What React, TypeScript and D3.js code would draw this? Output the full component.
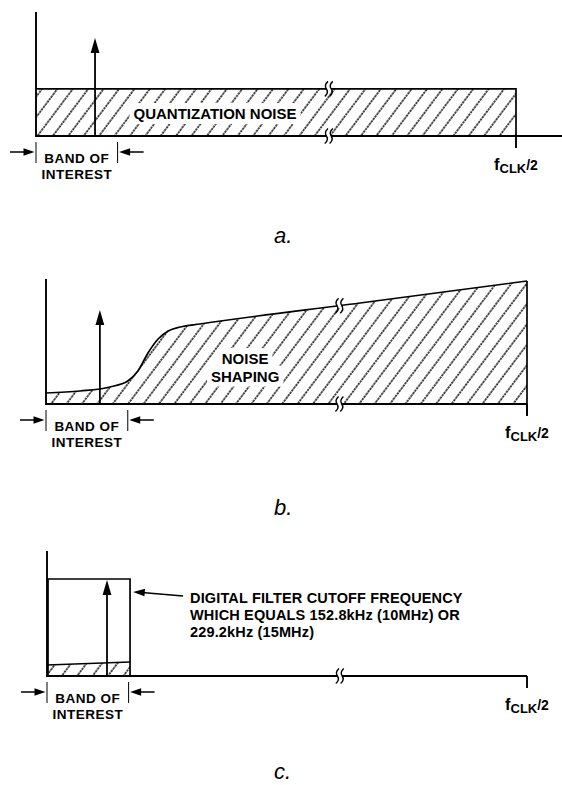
import { useEffect, useRef } from "react";
import * as d3 from "d3";

const W = 562;
const H = 785;

// frequency runs 0 → fCLK/2, levels are a fraction of each panel's height
const PANEL_NAMES = ["a.", "b.", "c."];
const SIGNAL_FREQ = [0.123, 0.112, 0.125];
const SIGNAL_AMP = [0.79, 0.752, 0.768];
const BAND_EDGE = 0.17;
const BREAK_FREQ = 0.61;

const QUANT_NOISE_LEVEL = 0.38;

const SHAPED_FREQ = [0, 0.071, 0.133, 0.17, 0.191, 0.212, 0.233, 0.254, 0.279, 0.32, 0.653, 1];
const SHAPED_LEVEL = [0.088, 0.104, 0.136, 0.184, 0.264, 0.408, 0.52, 0.584, 0.616, 0.64, 0.808, 0.984];

const FILTER_CUTOFF = 0.173;
const FILTER_GAIN = 0.776;
const FILTERED_FREQ = [0, 0.173];
const FILTERED_LEVEL = [0.088, 0.112];

const FILTER_NOTE = [
  "DIGITAL FILTER CUTOFF FREQUENCY",
  "WHICH EQUALS 152.8kHz (10MHz) OR",
  "229.2kHz (15MHz)",
];

// pixel frames of the three panels
const FRAMES = [
  { x0: 36, x1: 516, base: 136, top: 12, tail: 562, capY: 243 },
  { x0: 46, x1: 527, base: 404, top: 279, tail: 527, capY: 515 },
  { x0: 47, x1: 527, base: 676, top: 551, tail: 527, capY: 779 },
];

const FONT = "'Liberation Sans', Arial, Helvetica, sans-serif";
const INK = "#000";

type G = d3.Selection<SVGGElement, unknown, null, undefined>;

function arrowHead(g: G, x: number, y: number, dir: "up" | "left" | "right", len: number, half: number) {
  let pts: [number, number][];
  if (dir === "up") pts = [[x, y], [x - half, y + len], [x + half, y + len]];
  else if (dir === "left") pts = [[x, y], [x + len, y - half], [x + len, y + half]];
  else pts = [[x, y], [x - len, y - half], [x - len, y + half]];
  g.append("path").attr("d", "M" + pts.map((p) => p.join(",")).join("L") + "Z").attr("fill", INK);
}

function squiggle(g: G, x: number, y: number) {
  g.append("rect").attr("x", x - 2.2).attr("y", y - 2.5).attr("width", 4.4).attr("height", 5).attr("fill", "#fff");
  [-2.4, 2.4].forEach((dx) => {
    const cx = x + dx;
    g.append("path")
      .attr("d", `M${cx + 1.6},${y - 7.5} Q${cx - 2.6},${y - 3.8} ${cx},${y} Q${cx + 2.6},${y + 3.8} ${cx - 1.6},${y + 7.5}`)
      .attr("fill", "none").attr("stroke", INK).attr("stroke-width", 1.4);
  });
}

function boxedText(g: G, lines: string[], x: number, y: number, lh: number, size: number) {
  const t = g.append("text")
    .attr("font-family", FONT).attr("font-weight", "700").attr("font-size", size)
    .attr("text-anchor", "middle").attr("fill", INK);
  lines.forEach((s, i) => t.append("tspan").attr("x", x).attr("y", y + i * lh).text(s));
  const bb = (t.node() as SVGTextElement).getBBox();
  g.insert("rect", () => t.node())
    .attr("x", bb.x - 4).attr("y", bb.y - 2).attr("width", bb.width + 8).attr("height", bb.height + 4)
    .attr("fill", "#fff");
}

export default function App() {
  const ref = useRef<SVGSVGElement>(null);

  useEffect(() => {
    if (!ref.current) return;
    const svg = d3.select(ref.current);
    svg.selectAll("*").remove();

    const pat = svg.append("defs").append("pattern")
      .attr("id", "hatch").attr("patternUnits", "userSpaceOnUse")
      .attr("width", 12.3).attr("height", 12.8).attr("patternTransform", "rotate(37)");
    pat.append("line").attr("x1", 1).attr("y1", 0).attr("x2", 1).attr("y2", 12.8)
      .attr("stroke", "#111").attr("stroke-width", 1.5).attr("stroke-dasharray", "2.4 0.8");

    FRAMES.forEach((fr, i) => {
      const g = svg.append("g") as unknown as G;
      const x = d3.scaleLinear().domain([0, 1]).range([fr.x0, fr.x1]);
      const y = d3.scaleLinear().domain([0, 1]).range([fr.base, fr.top]);

      // noise content
      if (i === 0) {
        g.append("rect")
          .attr("x", x(0)).attr("y", y(QUANT_NOISE_LEVEL))
          .attr("width", x(1) - x(0)).attr("height", y(0) - y(QUANT_NOISE_LEVEL))
          .attr("fill", "url(#hatch)");
        boxedText(g, ["QUANTIZATION NOISE"], x(0.373), y(0.137), 0, 15);
        g.append("path")
          .attr("d", `M${x(0)},${y(QUANT_NOISE_LEVEL)}H${x(1)}V${y(0)}`)
          .attr("fill", "none").attr("stroke", INK).attr("stroke-width", 1.7);
      } else if (i === 1) {
        const pts = SHAPED_FREQ.map((f, k) => [f, SHAPED_LEVEL[k]] as [number, number]);
        const area = d3.area<[number, number]>().x((d) => x(d[0])).y0(y(0)).y1((d) => y(d[1])).curve(d3.curveMonotoneX);
        const line = d3.line<[number, number]>().x((d) => x(d[0])).y((d) => y(d[1])).curve(d3.curveMonotoneX);
        g.append("path").attr("d", area(pts) as string).attr("fill", "url(#hatch)");
        boxedText(g, ["NOISE"], x(0.414), y(0.32), 0, 15);
        boxedText(g, ["SHAPING"], x(0.414), y(0.32) + 17.5, 0, 15);
        g.append("path").attr("d", line(pts) as string).attr("fill", "none").attr("stroke", INK).attr("stroke-width", 1.7);
        g.append("line").attr("x1", x(1)).attr("x2", x(1)).attr("y1", y(SHAPED_LEVEL[SHAPED_LEVEL.length - 1])).attr("y2", fr.base + 11)
          .attr("stroke", INK).attr("stroke-width", 1.7);
      } else {
        const pts = FILTERED_FREQ.map((f, k) => [f, FILTERED_LEVEL[k]] as [number, number]);
        const area = d3.area<[number, number]>().x((d) => x(d[0])).y0(y(0)).y1((d) => y(d[1]));
        const line = d3.line<[number, number]>().x((d) => x(d[0])).y((d) => y(d[1]));
        g.append("path").attr("d", area(pts) as string).attr("fill", "url(#hatch)");
        g.append("path").attr("d", line(pts) as string).attr("fill", "none").attr("stroke", INK).attr("stroke-width", 1.3);
        g.append("path")
          .attr("d", `M${x(0) + 1},${y(0)}V${y(FILTER_GAIN)}H${x(FILTER_CUTOFF)}V${y(0)}`)
          .attr("fill", "none").attr("stroke", INK).attr("stroke-width", 1.7);
        // pointer to the cutoff
        const tx = x(FILTER_CUTOFF);
        const ty = y(FILTER_GAIN);
        g.append("line").attr("x1", tx + 53).attr("y1", ty + 17).attr("x2", tx + 12).attr("y2", ty + 13.6)
          .attr("stroke", INK).attr("stroke-width", 1.5);
        g.append("path")
          .attr("d", `M${tx + 3},${ty + 13}L${tx + 15},${ty + 9.8}L${tx + 14.4},${ty + 17.2}Z`)
          .attr("fill", INK);
        FILTER_NOTE.forEach((s, k) =>
          g.append("text").attr("font-family", FONT).attr("font-weight", "700").attr("font-size", 14.5)
            .attr("letter-spacing", 0.15).attr("fill", INK)
            .attr("x", tx + 60).attr("y", ty + 24 + k * 17).text(s));
      }

      // axes
      g.append("line").attr("x1", fr.x0).attr("x2", fr.x0).attr("y1", fr.top).attr("y2", fr.base)
        .attr("stroke", INK).attr("stroke-width", 1.9);
      g.append("line").attr("x1", fr.x0 - 1).attr("x2", fr.tail).attr("y1", fr.base).attr("y2", fr.base)
        .attr("stroke", INK).attr("stroke-width", 1.9);
      g.append("line").attr("x1", x(1)).attr("x2", x(1)).attr("y1", fr.base).attr("y2", fr.base + 12)
        .attr("stroke", INK).attr("stroke-width", 1.9);

      // breaks
      if (i === 0) squiggle(g, x(BREAK_FREQ), y(QUANT_NOISE_LEVEL));
      if (i === 1) {
        const lvl = d3.scaleLinear().domain(SHAPED_FREQ).range(SHAPED_LEVEL);
        squiggle(g, x(BREAK_FREQ), y(lvl(BREAK_FREQ)));
      }
      squiggle(g, x(BREAK_FREQ), fr.base);

      // signal
      const sx = x(SIGNAL_FREQ[i]);
      const sy = y(SIGNAL_AMP[i]);
      g.append("line").attr("x1", sx).attr("x2", sx).attr("y1", fr.base).attr("y2", sy + 10)
        .attr("stroke", INK).attr("stroke-width", 1.8);
      arrowHead(g, sx, sy, "up", 15, 4.4);

      // band of interest
      const bx0 = x(0);
      const bx1 = x(BAND_EDGE);
      [bx0, bx1].forEach((bx) =>
        g.append("line").attr("x1", bx).attr("x2", bx).attr("y1", fr.base + 6).attr("y2", fr.base + 27)
          .attr("stroke", INK).attr("stroke-width", 1));
      const ay = fr.base + 16;
      g.append("line").attr("x1", bx0 - 26).attr("x2", bx0 - 6).attr("y1", ay).attr("y2", ay).attr("stroke", INK).attr("stroke-width", 1.5);
      arrowHead(g, bx0 - 1.5, ay, "right", 11, 3.8);
      g.append("line").attr("x1", bx1 + 26).attr("x2", bx1 + 6).attr("y1", ay).attr("y2", ay).attr("stroke", INK).attr("stroke-width", 1.5);
      arrowHead(g, bx1 + 1.5, ay, "left", 11, 3.8);
      ["BAND OF", "INTEREST"].forEach((s, k) =>
        g.append("text").attr("font-family", FONT).attr("font-weight", "700").attr("font-size", 13.5)
          .attr("letter-spacing", 0.5).attr("text-anchor", "middle").attr("fill", INK)
          .attr("x", (bx0 + bx1) / 2).attr("y", fr.base + 27 + k * 15.5).text(s));

      // fCLK/2
      const ft = g.append("text").attr("font-family", FONT).attr("font-weight", "700").attr("fill", INK)
        .attr("x", x(1) - 22).attr("y", fr.base + 34);
      ft.append("tspan").attr("font-size", 16.5).text("f");
      ft.append("tspan").attr("font-size", 13).attr("dy", 3).text("CLK");
      ft.append("tspan").attr("font-size", 14).attr("dy", -3).text("/2");

      // caption
      g.append("text").attr("font-family", FONT).attr("font-style", "italic").attr("font-size", 22)
        .attr("fill", INK).attr("x", 274).attr("y", fr.capY).text(PANEL_NAMES[i]);
    });
  }, []);

  return (
    <div style={{ position: "absolute", left: 0, top: 0, background: "#fff" }}>
      <svg ref={ref} width={W} height={H} viewBox={`0 0 ${W} ${H}`} style={{ display: "block" }} />
    </div>
  );
}
